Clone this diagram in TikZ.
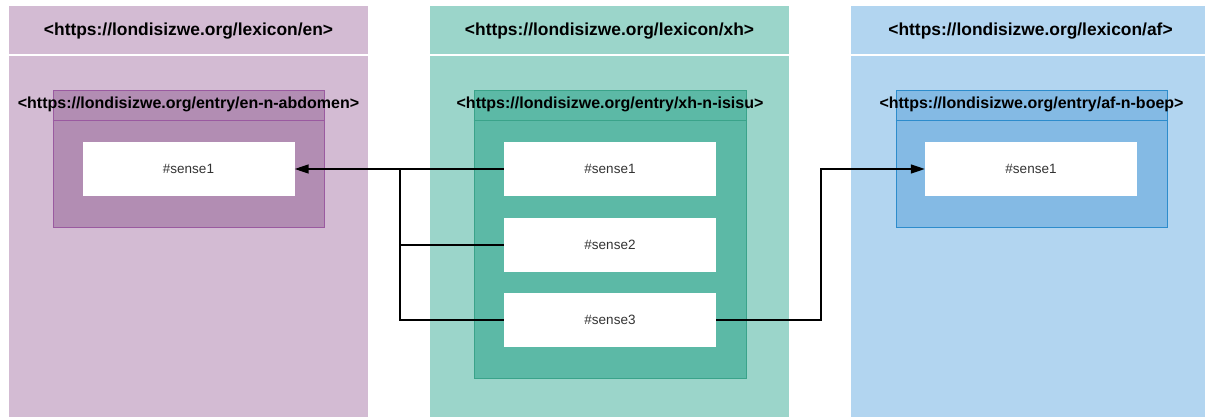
\documentclass[tikz,border=0pt]{standalone}
\usepackage{fontspec}
\setmainfont{Liberation Sans}
\usetikzlibrary{arrows.meta}
\definecolor{enCol}{HTML}{D3BBD3}
\definecolor{enBox}{HTML}{B28DB3}
\definecolor{enLine}{HTML}{9A5AA0}
\definecolor{xhCol}{HTML}{9BD5CA}
\definecolor{xhBox}{HTML}{5CB9A6}
\definecolor{xhLine}{HTML}{3AA38A}
\definecolor{afCol}{HTML}{B2D5F0}
\definecolor{afBox}{HTML}{84BAE4}
\definecolor{afLine}{HTML}{2D8CCC}
\definecolor{senseText}{HTML}{333333}
\tikzset{
  lexcol/.style={fill=#1, draw=none, inner sep=0pt, minimum width=359pt, minimum height=414pt, anchor=north},
  lexhead/.style={font=\fontsize{17.4}{20}\selectfont\bfseries, text=black, inner sep=0pt},
  entrybox/.style={fill=#1, inner sep=0pt, line width=1pt, anchor=north},
  entryhead/.style={font=\fontsize{16}{19}\selectfont\bfseries, text=black, inner sep=0pt},
  sensebox/.style={fill=white, draw=none, inner sep=0pt, minimum width=212pt, minimum height=54pt,
    font=\fontsize{13.5}{16}\selectfont, text=senseText},
  link/.style={draw=black, line width=1.6pt},
  arrowlink/.style={link, -{Triangle[length=14pt,width=9pt]}},
}

\begin{document}
\begin{tikzpicture}[x=1pt,y=-1pt]
\useasboundingbox (0,0) rectangle (1205,417);
\clip (0,0) rectangle (1205,417);

% lexicon columns
\node[lexcol=enCol] (encol) at (188.5,6) {};
\node[lexcol=xhCol] (xhcol) at (609.5,6) {};
\node[lexcol=afCol] (afcol) at (1030.5,6) {};
\foreach \c in {encol,xhcol,afcol}
  \draw[white, line width=1.5pt] ([yshift=-49pt]\c.north west) -- ([yshift=-49pt]\c.north east);
\node[lexhead] (enhead) at (188.5,31) {<https://londisizwe.org/lexicon/en>};
\node[lexhead] (xhhead) at (609.5,31) {<https://londisizwe.org/lexicon/xh>};
\node[lexhead] (afhead) at (1030.5,31) {<https://londisizwe.org/lexicon/af>};

% entry boxes
\node[entrybox=enBox, draw=enLine, minimum width=271pt, minimum height=137pt] (enentry) at (188.5,90) {};
\node[entrybox=xhBox, draw=xhLine, minimum width=272pt, minimum height=288pt] (xhentry) at (610,90) {};
\node[entrybox=afBox, draw=afLine, minimum width=271pt, minimum height=137pt] (afentry) at (1031.5,90) {};
\draw[enLine, line width=1pt] ([yshift=-31pt]enentry.north west) -- ([yshift=-31pt]enentry.north east);
\draw[xhLine, line width=1pt] ([yshift=-31pt]xhentry.north west) -- ([yshift=-31pt]xhentry.north east);
\draw[afLine, line width=1pt] ([yshift=-31pt]afentry.north west) -- ([yshift=-31pt]afentry.north east);
\node[entryhead] (enlabel) at (188.5,104.5) {<https://londisizwe.org/entry/en-n-abdomen>};
\node[entryhead] (xhlabel) at (610,104.5) {<https://londisizwe.org/entry/xh-n-isisu>};
\node[entryhead] (aflabel) at (1031.5,104.5) {<https://londisizwe.org/entry/af-n-boep>};

% senses
\node[sensebox] (ens1) at (188.5,169) {\#sense1};
\node[sensebox] (xhs1) at (610,169) {\#sense1};
\node[sensebox] (xhs2) at (610,245) {\#sense2};
\node[sensebox] (xhs3) at (610,320) {\#sense3};
\node[sensebox] (afs1) at (1031,169) {\#sense1};

% links between senses
\coordinate (join) at (400,169);
\coordinate (bend) at (821,169);
\draw[arrowlink] (xhs1.west) -- (ens1.east);
\draw[link] (xhs2.west) -| (join);
\draw[link] (xhs3.west) -| (join);
\draw[arrowlink] (xhs3.east) -| (bend) -- (afs1.west);
\end{tikzpicture}
\end{document}
